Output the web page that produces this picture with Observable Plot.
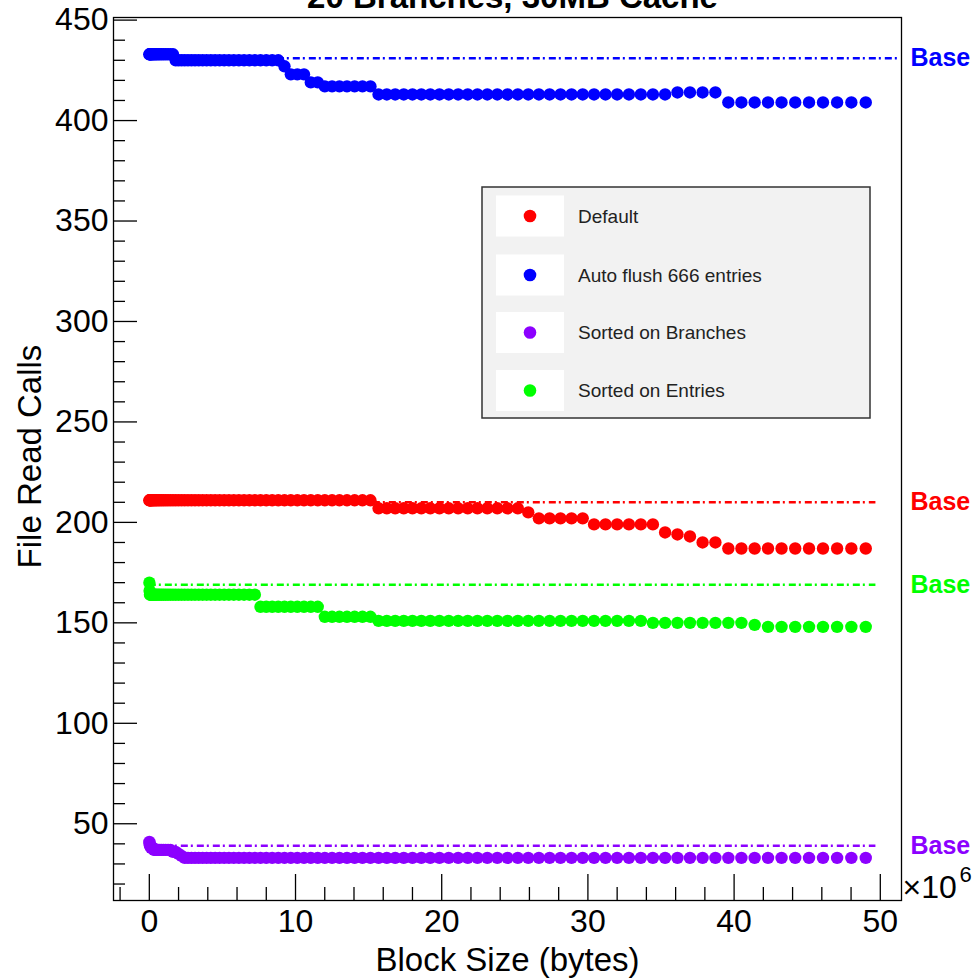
<!DOCTYPE html>
<html><head><meta charset="utf-8">
<script src="https://cdn.jsdelivr.net/npm/d3@7"></script>
<script src="https://cdn.jsdelivr.net/npm/@observablehq/plot@0.6"></script>
<style>
body{margin:0;background:#fff;}
#chart svg{display:block;}
</style>
</head><body><div id="chart"></div>
<script>
// Block size (units of 1e6 bytes)
const blockSize = [0.005,0.02,0.045,0.08,0.125,0.18,0.245,0.32,0.405,0.5,
0.605,0.72,0.845,0.98,1.125,1.28,1.445,1.62,1.805,2.0,
2.205,2.42,2.645,2.88,3.125,3.38,3.645,3.92,4.205,4.5,
4.805,5.12,5.445,5.78,6.125,6.48,6.845,7.22,7.605,8.0,
8.405,8.82,9.245,9.68,10.125,10.58,11.045,11.52,12.005,12.5,
13.005,13.52,14.045,14.58,15.125,15.68,16.245,16.82,17.405,18.0,
18.605,19.22,19.845,20.48,21.125,21.78,22.445,23.12,23.805,24.5,
25.205,25.92,26.645,27.38,28.125,28.88,29.645,30.42,31.205,32.0,
32.805,33.62,34.445,35.28,36.125,36.98,37.845,38.72,39.605,40.5,
41.405,42.32,43.245,44.18,45.125,46.08,47.045,48.02,49.005];

const defaultCalls = [211,211,211,211,211,211,211,211,211,211,
211,211,211,211,211,211,211,211,211,211,
211,211,211,211,211,211,211,211,211,211,
211,211,211,211,211,211,211,211,211,211,
211,211,211,211,211,211,211,211,211,211,
211,211,211,211,211,207,207,207,207,207,
207,207,207,207,207,207,207,207,207,207,
207,205,202,202,202,202,202,199,199,199,
199,199,199,195,194,193,190,190,187,187,
187,187,187,187,187,187,187,187,187];

const autoFlushCalls = [433,433,433,433,433,433,433,433,433,433,
433,433,433,433,433,433,433,433,430,430,
430,430,430,430,430,430,430,430,430,430,
430,430,430,430,430,430,430,430,430,430,
430,430,427,423,423,423,419,419,417,417,
417,417,417,417,417,413,413,413,413,413,
413,413,413,413,413,413,413,413,413,413,
413,413,413,413,413,413,413,413,413,413,
413,413,413,413,414,414,414,414,409,409,
409,409,409,409,409,409,409,409,409];

const sortedBranchesCalls = [41,40,39,39,38,38,38,37,37,37,
37,37,37,37,37,37,37,36,36,35,
34,33,33,33,33,33,33,33,33,33,
33,33,33,33,33,33,33,33,33,33,
33,33,33,33,33,33,33,33,33,33,
33,33,33,33,33,33,33,33,33,33,
33,33,33,33,33,33,33,33,33,33,
33,33,33,33,33,33,33,33,33,33,
33,33,33,33,33,33,33,33,33,33,
33,33,33,33,33,33,33,33,33];

const sortedEntriesCalls = [170,166,164,164,164,164,164,164,164,164,
164,164,164,164,164,164,164,164,164,164,
164,164,164,164,164,164,164,164,164,164,
164,164,164,164,164,164,164,164,158,158,
158,158,158,158,158,158,158,158,153,153,
153,153,153,153,153,151,151,151,151,151,
151,151,151,151,151,151,151,151,151,151,
151,151,151,151,151,151,151,151,151,151,
151,151,150,150,150,150,150,150,150,150,
149,148,148,148,148,148,148,148,148];

const seriesNames = ["Default","Auto flush 666 entries","Sorted on Branches","Sorted on Entries"];
const seriesColors = ["#ff0000","#0000ff","#8c00ff","#00ff00"];
const seriesValues = [defaultCalls, autoFlushCalls, sortedBranchesCalls, sortedEntriesCalls];
const baseValues = [210, 431, 39, 169];
const baseEnd = [49.7, 51.4, 49.7, 49.7];
const baseLabel = "Base";

const titleText = "20 Branches, 30MB Cache";
const xTitle = "Block Size (bytes)";
const yTitle = "File Read Calls";
const xTicks = [0,10,20,30,40,50];
const xTickLabels = ["0","10","20","30","40","50"];
const xMinorTicks = [-2,2,4,6,8,12,14,16,18,22,24,26,28,32,34,36,38,42,44,46,48];
const yTicks = [50,100,150,200,250,300,350,400,450];
const yTickLabels = ["50","100","150","200","250","300","350","400","450"];
const yMinorTicks = [20,30,40,60,70,80,90,110,120,130,140,160,170,180,190,210,220,230,240,260,270,280,290,310,320,330,340,360,370,380,390,410,420,430,440];

// table for points
const points = [];
seriesValues.forEach((vals, s) => vals.forEach((v, i) => points.push({x: blockSize[i], y: v, s})));
const bases = baseValues.map((v, s) => ({y: v, s, x2: baseEnd[s]}));

const W = 976, H = 978;
const mL = 113, mR = 75, mT = 17, mB = 78;
const xDom = [-2.45, 51.45], yDom = [11.8, 451.3];
const pxPerX = (W - mL - mR) / (xDom[1] - xDom[0]);
const pxPerY = (H - mT - mB) / (yDom[1] - yDom[0]);
const xMajLen = 26 / pxPerY, xMinLen = 13 / pxPerY;
const yMajLen = 24 / pxPerX, yMinLen = 12 / pxPerX;
const font = "'Liberation Sans', Arial, Helvetica, sans-serif";

const chart = Plot.plot({
  width: W, height: H,
  marginLeft: mL, marginRight: mR, marginTop: mT, marginBottom: mB,
  style: {fontFamily: font, background: "#fff", overflow: "visible"},
  x: {domain: xDom, axis: null},
  y: {domain: yDom, axis: null},
  marks: [
    // base lines
    Plot.ruleY(bases, {y: "y", x1: 0, x2: "x2", stroke: d => seriesColors[d.s], strokeWidth: 2.5, strokeDasharray: "7,3,2,4"}),
    // points
    Plot.dot(points, {x: "x", y: "y", r: 6.2, fill: d => seriesColors[d.s], stroke: "none"}),
    // frame
    Plot.frame({stroke: "#000", strokeWidth: 1.3}),
    // ticks
    Plot.ruleX(xTicks, {x: d => d, y1: yDom[0], y2: yDom[0] + xMajLen, stroke: "#000", strokeWidth: 1.3}),
    Plot.ruleX(xMinorTicks, {x: d => d, y1: yDom[0], y2: yDom[0] + xMinLen, stroke: "#000", strokeWidth: 1.3}),
    Plot.ruleY(yTicks, {y: d => d, x1: xDom[0], x2: xDom[0] + yMajLen, stroke: "#000", strokeWidth: 1.3}),
    Plot.ruleY(yMinorTicks, {y: d => d, x1: xDom[0], x2: xDom[0] + yMinLen, stroke: "#000", strokeWidth: 1.3}),
    // tick labels
    Plot.text(xTicks, {x: d => d, text: (d, i) => xTickLabels[i], frameAnchor: "bottom", lineAnchor: "top", dy: 9, fontSize: 32, fill: "#000"}),
    Plot.text(yTicks, {y: d => d, text: (d, i) => yTickLabels[i], frameAnchor: "left", textAnchor: "end", dx: -5, fontSize: 32, fill: "#000"}),
    // axis titles
    Plot.text([xTitle], {frameAnchor: "bottom", textAnchor: "middle", lineAnchor: "bottom", dy: 70, fontSize: 33, fill: "#000"}),
    Plot.text([yTitle], {frameAnchor: "left", textAnchor: "middle", rotate: -90, dx: -83, dy: -2.5, fontSize: 33, fill: "#000"}),
    // x10^6
    Plot.text(["×10"], {frameAnchor: "bottom-right", textAnchor: "start", lineAnchor: "bottom", dx: 1, dy: -3, fontSize: 32, fill: "#000"}),
    Plot.text(["6"], {frameAnchor: "bottom-right", textAnchor: "start", lineAnchor: "bottom", dx: 58, dy: -19, fontSize: 22, fill: "#000"}),
    // title
    Plot.text([titleText], {frameAnchor: "top", textAnchor: "middle", lineAnchor: "bottom", dx: 5, dy: -10, fontSize: 33, fontWeight: "bold", fill: "#000"}),
    // Base labels
    Plot.text(bases, {y: "y", text: () => baseLabel, frameAnchor: "right", textAnchor: "start", dx: 9, fontSize: 25, fontWeight: "bold", fill: d => seriesColors[d.s]})
  ]
});
document.getElementById("chart").appendChild(chart);

// legend box
const svg = d3.select(chart);
const lg = svg.append("g").attr("font-family", font).attr("text-anchor", "start");
lg.append("rect").attr("x", 482).attr("y", 187).attr("width", 388).attr("height", 231)
  .attr("fill", "#f2f2f2").attr("stroke", "#333").attr("stroke-width", 1.5);
const rowY = [216, 275, 332.5, 390.5];
seriesNames.forEach((name, i) => {
  lg.append("rect").attr("x", 496).attr("y", rowY[i] - 20.5).attr("width", 68).attr("height", 41).attr("fill", "#fff");
  lg.append("circle").attr("cx", 530).attr("cy", rowY[i]).attr("r", 6.3).attr("fill", seriesColors[i]);
  lg.append("text").attr("x", 578).attr("y", rowY[i]).attr("dy", "0.35em").attr("text-anchor", "start")
    .attr("font-size", 19).attr("fill", "#222").text(name);
});
</script>
</body></html>
